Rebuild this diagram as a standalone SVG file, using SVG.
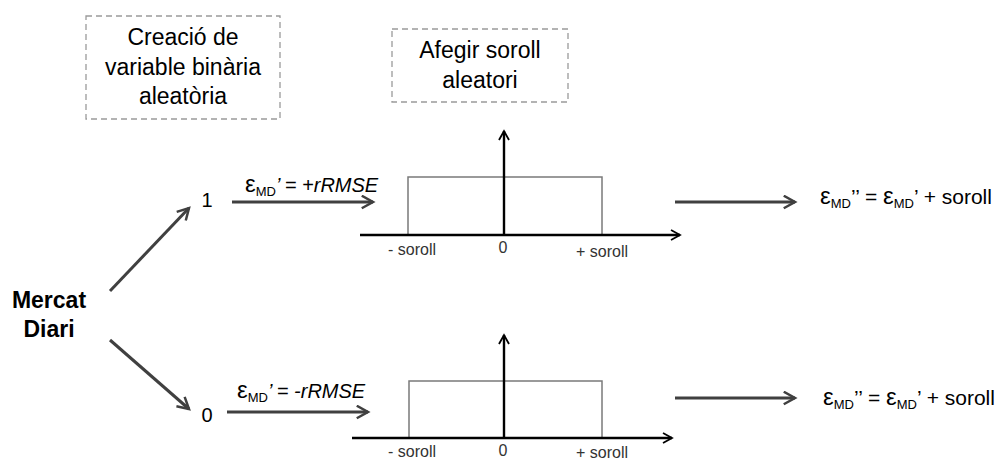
<svg xmlns="http://www.w3.org/2000/svg" width="1004" height="459" viewBox="0 0 1004 459">
  <style>
    text { font-family: "Liberation Sans", Arial, sans-serif; fill: #000; }
    .box { fill: none; stroke: #9a9a9a; stroke-width: 1.3; stroke-dasharray: 6 4; }
    .title { font-size: 23px; text-anchor: middle; }
    .conn { stroke: #404040; stroke-width: 3; fill: none; marker-end: url(#arrow); }
    .axis { stroke: #000; stroke-width: 2.4; fill: none; marker-end: url(#axisArrow); }
    .pdf { fill: none; stroke: #7a7a7a; stroke-width: 1.5; }
    .tick { font-size: 16px; text-anchor: middle; fill: #333; }
    .lbl { font-size: 20px; }
    .res { font-size: 21px; }
    .eps { font-size: 24px; }
    .it { font-style: italic; }
    .sub { font-size: 13px; }
  </style>
  <defs>
    <marker id="arrow" viewBox="0 0 12 12" refX="10" refY="6" markerWidth="5" markerHeight="5" markerUnits="strokeWidth" orient="auto">
      <path d="M1,1 L10,6 L1,11" fill="none" stroke="#404040" stroke-width="2"/>
    </marker>
    <marker id="axisArrow" viewBox="0 0 12 12" refX="10" refY="6" markerWidth="5" markerHeight="5" markerUnits="strokeWidth" orient="auto">
      <path d="M1,1 L10,6 L1,11" fill="none" stroke="#000" stroke-width="1.8"/>
    </marker>
  </defs>

  <!-- heading boxes -->
  <g id="box-binary">
    <rect class="box" x="86" y="16" width="194" height="103"/>
    <text class="title" x="183" y="45">Creació de</text>
    <text class="title" x="183" y="75">variable binària</text>
    <text class="title" x="183" y="104">aleatòria</text>
  </g>
  <g id="box-noise">
    <rect class="box" x="392" y="29" width="176" height="73"/>
    <text class="title" x="480" y="58">Afegir soroll</text>
    <text class="title" x="480" y="88">aleatori</text>
  </g>

  <!-- source node -->
  <g id="node-mercat">
    <text x="49" y="308" font-size="23" font-weight="bold" text-anchor="middle">Mercat</text>
    <text x="49" y="337" font-size="23" font-weight="bold" text-anchor="middle">Diari</text>
  </g>

  <!-- binary outcomes -->
  <g id="node-one"><text x="207" y="207" font-size="20" text-anchor="middle">1</text></g>
  <g id="node-zero"><text x="207" y="422" font-size="20" text-anchor="middle">0</text></g>

  <!-- uniform noise distributions -->
  <g id="dist-upper">
    <rect class="pdf" x="408" y="177" width="194" height="58"/>
    <line class="axis" x1="360" y1="235" x2="680" y2="235"/>
    <line class="axis" x1="504" y1="235" x2="504" y2="131"/>
    <text class="tick" x="412" y="255">- soroll</text>
    <text class="tick" x="503" y="253">0</text>
    <text class="tick" x="602" y="257">+ soroll</text>
  </g>
  <g id="dist-lower">
    <rect class="pdf" x="409" y="381" width="193" height="57"/>
    <line class="axis" x1="352" y1="438" x2="672" y2="438"/>
    <line class="axis" x1="504" y1="438" x2="504" y2="335"/>
    <text class="tick" x="412" y="457">- soroll</text>
    <text class="tick" x="503" y="456">0</text>
    <text class="tick" x="602" y="458">+ soroll</text>
  </g>

  <!-- result labels -->
  <g id="result-upper">
    <text class="res" x="820" y="204"><tspan class="eps">ε</tspan><tspan class="sub" dy="4">MD</tspan><tspan dy="-4">’’ = </tspan><tspan class="eps">ε</tspan><tspan class="sub" dy="4">MD</tspan><tspan dy="-4">’ + soroll</tspan></text>
  </g>
  <g id="result-lower">
    <text class="res" x="823" y="405"><tspan class="eps">ε</tspan><tspan class="sub" dy="4">MD</tspan><tspan dy="-4">’’ = </tspan><tspan class="eps">ε</tspan><tspan class="sub" dy="4">MD</tspan><tspan dy="-4">’ + soroll</tspan></text>
  </g>

  <!-- connectors -->
  <g id="connectors">
    <line class="conn" x1="110" y1="291" x2="189" y2="208"/>
    <line class="conn" x1="110" y1="340" x2="189" y2="409"/>
    <line class="conn" x1="232" y1="202" x2="373" y2="202"/>
    <line class="conn" x1="227" y1="412" x2="368" y2="412"/>
    <line class="conn" x1="675" y1="202" x2="795" y2="202"/>
    <line class="conn" x1="675" y1="398" x2="795" y2="398"/>
    <text class="lbl" x="245" y="192"><tspan class="eps">ε</tspan><tspan class="sub" dy="4">MD</tspan><tspan class="it" dy="-4">’ = +rRMSE</tspan></text>
    <text class="lbl" x="237" y="398"><tspan class="eps">ε</tspan><tspan class="sub" dy="4">MD</tspan><tspan class="it" dy="-4">’ = -rRMSE</tspan></text>
  </g>
</svg>
